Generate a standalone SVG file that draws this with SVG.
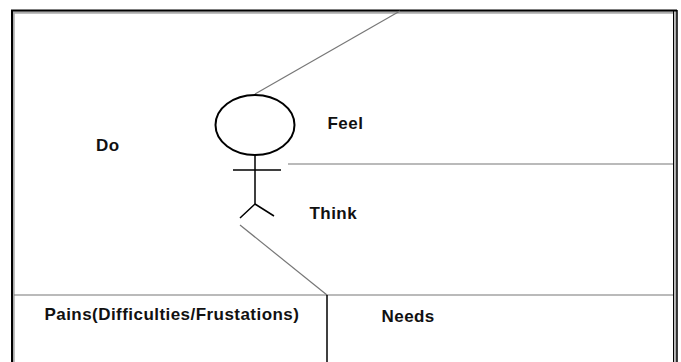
<svg xmlns="http://www.w3.org/2000/svg" width="681" height="362" viewBox="0 0 681 362">
<style>
.o{fill:none;stroke:#000;stroke-width:2}
.s{fill:none;stroke:#aaa;stroke-width:2.500}
.t{fill:none;stroke:#000;stroke-width:1.500}
.g{fill:none;stroke:#777;stroke-width:1.200}
.l{font-family:"Liberation Sans",Arial,sans-serif;font-weight:bold;font-size:17px;letter-spacing:.45px;fill:#111}
</style>
<rect width="681" height="362" fill="#fff"/>
<g id="frame">
<path class="s" d="M13.500 362V12.500H674"/>
<path class="s" d="M675.500 11V362"/>
<path class="o" d="M12 362V10.500H677"/>
<path fill="none" stroke="#000" stroke-width="1.500" d="M677 10V362"/>
<path fill="none" stroke="#000" d="M673.500 11V362"/>
</g>
<g id="connectors">
<path class="g" d="M255 94L400 11"/>
<path class="g" d="M288 164H673"/>
<path class="g" d="M240 225L327 295"/>
<path class="g" d="M14 295H673"/>
<path class="t" d="M327 295V362"/>
</g>
<g id="person">
<ellipse class="o" cx="255" cy="125" rx="39.500" ry="30"/>
<path class="t" d="M255 155V204M233 170H281"/>
<path class="t" d="M255 204L240 218M255 204L274 216"/>
</g>
<g id="do"><text class="l" x="96" y="151">Do</text></g>
<g id="feel"><text class="l" x="327.500" y="129">Feel</text></g>
<g id="think"><text class="l" x="309.500" y="219">Think</text></g>
<g id="pains"><text class="l" x="44.500" y="320">Pains(Difficulties/Frustations)</text></g>
<g id="needs"><text class="l" x="381.500" y="322">Needs</text></g>
</svg>
